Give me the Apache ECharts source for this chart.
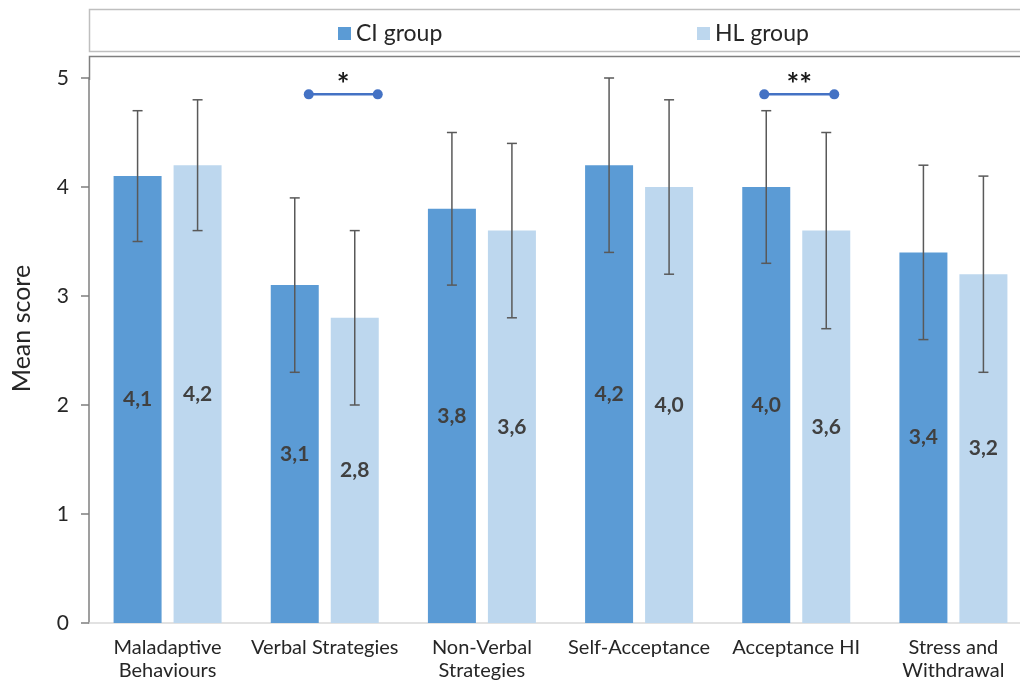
<!DOCTYPE html>
<html>
<head>
<meta charset="utf-8">
<style>
  html, body { margin: 0; padding: 0; background: #fff; overflow: hidden; }
  #chart { width: 1044px; height: 684px; }
</style>
<script src="https://cdn.jsdelivr.net/npm/echarts@6/dist/echarts.min.js"></script>
</head>
<body>
<div id="chart"></div>
<script>
// Subscale categories
const categories = [
  'Maladaptive\nBehaviours',
  'Verbal Strategies',
  'Non-Verbal\nStrategies',
  'Self-Acceptance',
  'Acceptance HI',
  'Stress and\nWithdrawal'
];

// Mean scores per group
const ciMeans = [4.1, 3.1, 3.8, 4.2, 4.0, 3.4];
const hlMeans = [4.2, 2.8, 3.6, 4.0, 3.6, 3.2];

// Standard deviations (error bars)
const ciSD = [0.6, 0.8, 0.7, 0.8, 0.7, 0.8];
const hlSD = [0.6, 0.8, 0.8, 0.8, 0.9, 0.9];

// Significant group differences
const sigCategories = [1, 4];
const sigMarks = ['*', '**'];
const sigLevel = 4.85;

// Y axis ticks
const yTicks = [0, 1, 2, 3, 4, 5];

const FONT = 'Lato, "Noto Sans", sans-serif';
const BAR_W = 48;
const BAR_GAP = 12;
const OFFSET = (BAR_W + BAR_GAP) / 2;
// hand-placed bracket end nudges (px from category centre)
const sigNudge = [[-16, 53], [-32, 38]];

const fmt = v => v.toFixed(1).replace('.', ',');

function errorSeries(name, means, sds, dir) {
  return {
    type: 'custom',
    name: name + ' SD',
    silent: true,
    z: 5,
    data: means.map((m, i) => [i, m - sds[i], m + sds[i]]),
    renderItem: function (params, api) {
      const lo = api.coord([api.value(0), api.value(1)]);
      const hi = api.coord([api.value(0), api.value(2)]);
      const x = lo[0] + dir * OFFSET;
      const cap = 5;
      const style = { stroke: '#595959', lineWidth: 1.5 };
      return {
        type: 'group',
        children: [
          { type: 'line', shape: { x1: x, y1: lo[1], x2: x, y2: hi[1] }, style },
          { type: 'line', shape: { x1: x - cap, y1: hi[1], x2: x + cap, y2: hi[1] }, style },
          { type: 'line', shape: { x1: x - cap, y1: lo[1], x2: x + cap, y2: lo[1] }, style }
        ]
      };
    }
  };
}

const chart = echarts.init(document.getElementById('chart'));

const legendText = { fontSize: 23, color: '#262626', fontFamily: FONT };

chart.setOption({
  backgroundColor: '#ffffff',
  animation: false,
  textStyle: { fontFamily: FONT },
  legend: [
    {
      data: ['CI group'], left: 333, top: 17,
      itemWidth: 13, itemHeight: 13, itemGap: 8,
      icon: 'rect',
      textStyle: legendText
    },
    {
      data: ['HL group'], left: 692, top: 17,
      itemWidth: 13, itemHeight: 13, itemGap: 8,
      icon: 'rect',
      textStyle: legendText
    }
  ],
  graphic: [
    // legend frame
    {
      type: 'rect', shape: { x: 89.5, y: 9.5, width: 960, height: 42 },
      style: { fill: 'none', stroke: '#bfbfbf', lineWidth: 1.5 }, silent: true
    },
    // plot frame top edge and axis extension
    {
      type: 'polyline', shape: { points: [[1044, 56.5], [89.5, 56.5], [89.5, 80]] },
      style: { fill: 'none', stroke: '#7f7f7f', lineWidth: 1.5 }, silent: true
    }
  ],
  grid: {
    left: 89, top: 78, bottom: 61, width: 943,
    containLabel: false, outerBoundsMode: 'none'
  },
  xAxis: {
    type: 'category',
    data: categories,
    axisLine: { lineStyle: { color: '#d9d9d9', width: 1.5 } },
    axisTick: { show: false },
    axisLabel: {
      interval: 0, margin: 13, fontSize: 20, lineHeight: 23,
      color: '#262626', fontFamily: FONT
    }
  },
  yAxis: {
    type: 'value',
    min: yTicks[0],
    max: yTicks[yTicks.length - 1],
    interval: 1,
    name: 'Mean score',
    nameLocation: 'middle',
    nameRotate: 90,
    nameGap: 55,
    nameTextStyle: {
      fontSize: 25, color: '#262626', fontFamily: FONT,
      padding: [0, 0, 0, 44]
    },
    axisLine: { show: true, lineStyle: { color: '#7f7f7f', width: 1.5 } },
    axisTick: { show: true, length: 8, inside: false, lineStyle: { color: '#7f7f7f', width: 1.5 } },
    axisLabel: { fontSize: 21, color: '#262626', margin: 20, fontFamily: FONT },
    splitLine: { show: false }
  },
  series: [
    {
      name: 'CI group',
      type: 'bar',
      data: ciMeans,
      barWidth: BAR_W,
      barGap: (BAR_GAP / BAR_W * 100) + '%',
      itemStyle: { color: '#5b9bd5' },
      label: {
        show: true, position: 'inside',
        formatter: p => fmt(p.value),
        fontSize: 21, fontWeight: 'bold', color: '#404040',
        textBorderWidth: 0, fontFamily: FONT
      }
    },
    {
      name: 'HL group',
      type: 'bar',
      data: hlMeans,
      barWidth: BAR_W,
      itemStyle: { color: '#bdd7ee' },
      label: {
        show: true, position: 'inside',
        formatter: p => fmt(p.value),
        fontSize: 21, fontWeight: 'bold', color: '#404040',
        textBorderWidth: 0, fontFamily: FONT
      }
    },
    errorSeries('CI group', ciMeans, ciSD, -1),
    errorSeries('HL group', hlMeans, hlSD, 1),
    {
      type: 'custom',
      name: 'significance',
      silent: true,
      z: 6,
      data: sigCategories.map((c, i) => [c, sigLevel, i]),
      renderItem: function (params, api) {
        const p = api.coord([api.value(0), api.value(1)]);
        const k = api.value(2);
        const x1 = p[0] + sigNudge[k][0];
        const x2 = p[0] + sigNudge[k][1];
        const y = p[1];
        const col = '#4472c4';
        return {
          type: 'group',
          children: [
            { type: 'line', shape: { x1, y1: y, x2, y2: y }, style: { stroke: col, lineWidth: 2.5 } },
            { type: 'circle', shape: { cx: x1, cy: y, r: 5 }, style: { fill: col } },
            { type: 'circle', shape: { cx: x2, cy: y, r: 5 }, style: { fill: col } },
            {
              type: 'text',
              style: {
                x: (x1 + x2) / 2, y: y + 6,
                text: sigMarks[k],
                align: 'center', verticalAlign: 'bottom',
                font: 'bold 30px ' + FONT,
                fill: '#1a1a1a'
              }
            }
          ]
        };
      }
    }
  ]
});
</script>
</body>
</html>
